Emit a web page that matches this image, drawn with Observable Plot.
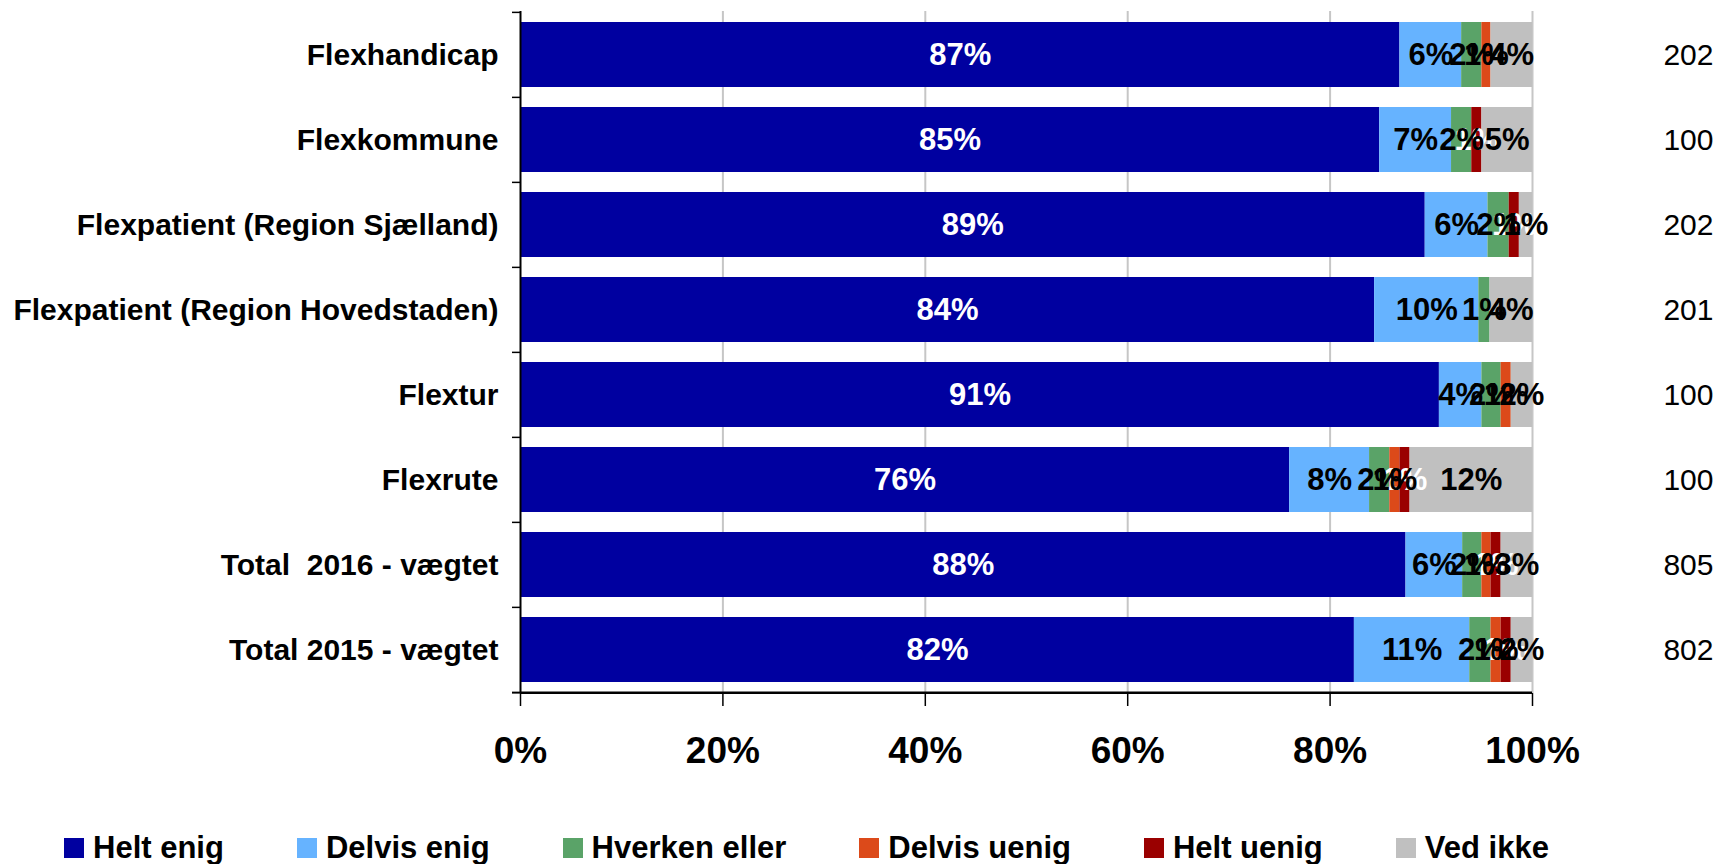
<!DOCTYPE html>
<html>
<head>
<meta charset="utf-8">
<script src="https://cdn.jsdelivr.net/npm/d3@7"></script>
<script src="https://cdn.jsdelivr.net/npm/@observablehq/plot@0.6"></script>
<style>
  body { margin: 0; background: #fff; }
  #chart { width: 1721px; }
  #chart svg { display: block; }
  svg text { white-space: pre; }
  .lg-swatch { margin-right: 73px !important; }
  .lg-swatch > svg { margin-right: 9px !important; }
</style>
</head>
<body>
<div id="chart"></div>
<script>
// ---- data ----
const categories = [
  "Flexhandicap",
  "Flexkommune",
  "Flexpatient (Region Sjælland)",
  "Flexpatient (Region Hovedstaden)",
  "Flextur",
  "Flexrute",
  "Total  2016 - vægtet",
  "Total 2015 - vægtet"
];
const series = ["Helt enig", "Delvis enig", "Hverken eller", "Delvis uenig", "Helt uenig", "Ved ikke"];
const heltEnig    = [86.9, 84.9, 89.4, 84.4, 90.8, 76.0, 87.5, 82.4];
const delvisEnig  = [6.1, 7.1, 6.2, 10.3, 4.2, 7.9, 5.6, 11.4];
const hverkenEller= [2.0, 2.0, 2.1, 1.1, 1.9, 2.0, 1.9, 2.1];
const delvisUenig = [0.9, 0, 0, 0, 1.0, 1.0, 0.9, 1.0];
const heltUenig   = [0, 1.0, 1.0, 0, 0, 1.0, 1.0, 1.0];
const vedIkke     = [4.1, 5.0, 1.3, 4.2, 2.1, 12.1, 3.1, 2.1];
const respondents = [202, 100, 202, 201, 100, 100, 805, 802];
const xTicks = [0, 20, 40, 60, 80, 100];

// ---- styles ----
const colors = ["#0000A0", "#66B3FF", "#5AA368", "#DC4A1A", "#9A0000", "#C0C0C0"];
const whiteLabelSeries = ["Helt enig", "Helt uenig"];
const font = '"Liberation Sans", Arial, Helvetica, sans-serif';

const seriesValues = [heltEnig, delvisEnig, hverkenEller, delvisUenig, heltUenig, vedIkke];
const table = categories.flatMap((cat, i) =>
  series.map((s, j) => ({cat, series: s, value: seriesValues[j][i]}))
);
const label = d => Math.round(d.value) + "%";

// ---- layout ----
const W = 1721, H = 812;
const mTop = 11, mBottom = H - 693, mLeft = 520, mRight = W - 1532;
const padIn = 0.23;
const step = (H - mTop - mBottom) / categories.length;
const last = categories[categories.length - 1];

const chart = Plot.plot({
  width: W,
  height: H,
  marginTop: mTop,
  marginBottom: mBottom,
  marginLeft: mLeft,
  marginRight: mRight,
  style: {fontFamily: font, fontWeight: "bold", background: "white", color: "black", overflow: "visible"},
  x: {domain: [0, 100], label: null},
  y: {domain: categories, paddingInner: padIn, paddingOuter: padIn / 2, label: null},
  color: {domain: series, range: colors},
  marks: [
    Plot.ruleX(xTicks.slice(1), {stroke: "#c6c6c6", strokeWidth: 2}),
    Plot.barX(table, Plot.stackX({x: "value", y: "cat", fill: "series"})),
    Plot.text(table, Plot.stackX({
      x: "value", y: "cat",
      text: d => (d.value > 0 && whiteLabelSeries.includes(d.series)) ? label(d) : null,
      fill: "white", fontSize: 31, fontWeight: "bold"
    })),
    Plot.text(table, Plot.stackX({
      x: "value", y: "cat",
      text: d => (d.value > 0 && !whiteLabelSeries.includes(d.series)) ? label(d) : null,
      fill: "black", fontSize: 31, fontWeight: "bold"
    })),
    Plot.ruleX([0], {stroke: "black", strokeWidth: 2}),
    Plot.ruleY([last], {x1: 0, x2: 100, dy: step / 2, stroke: "black", strokeWidth: 2.5}),
    Plot.axisY({tickSize: 8, dy: -step / 2, tickFormat: () => "", fill: "none", strokeWidth: 1.5}),
    Plot.axisY([last], {tickSize: 8, dy: step / 2, tickFormat: () => "", fill: "none", strokeWidth: 2}),
    Plot.axisY({tickSize: 0, tickPadding: 22, fontSize: 30}),
    Plot.axisX(xTicks, {tickSize: 13, tickPadding: 30, fontSize: 37, tickFormat: d => d + "%", strokeWidth: 1.5}),
    Plot.text(categories, {
      y: d => d,
      text: (d, i) => String(respondents[i]),
      frameAnchor: "right", dx: 181, textAnchor: "end",
      fontSize: 30, fontWeight: "normal"
    })
  ]
});

const legend = Plot.legend({
  color: {type: "ordinal", domain: series, range: colors},
  swatchSize: 20,
  className: "lg",
  style: {fontFamily: font, fontSize: "31px", fontWeight: "bold", color: "black", paddingLeft: "64px", marginTop: "18px", marginBottom: "0px"}
});

const root = document.getElementById("chart");
root.appendChild(chart);
root.appendChild(legend);
</script>
</body>
</html>
